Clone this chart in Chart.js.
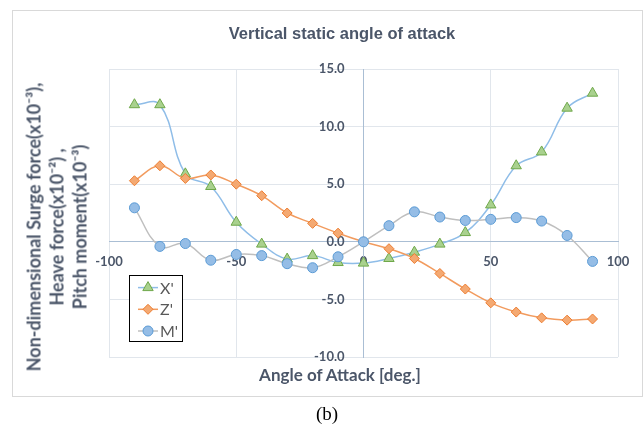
<!DOCTYPE html>
<html>
<head>
<meta charset="utf-8">
<script src="https://cdn.jsdelivr.net/npm/chart.js@4.4.0/dist/chart.umd.min.js"></script>
<style>
  html, body { margin: 0; padding: 0; background: #fff; }
  body { width: 644px; height: 430px; position: relative; overflow: hidden; font-family: Lato, sans-serif; }
  #frame { position: absolute; left: 12px; top: 10px; width: 629px; height: 385px; border: 1px solid #d9d9d9; }
  #chart { display: block; }
  .txt { position: absolute; color: #4b5669; font-weight: 700; white-space: nowrap; }
  #title { left: 342px; top: 33px; transform: translate(-50%, -50%); font-family: "Liberation Sans", Arial, sans-serif; font-size: 16.5px; }
  #xTitle { left: 340px; top: 374px; transform: translate(-50%, -50%); font-size: 17px; }
  #yTitle { left: 57px; top: 227px; transform: translate(-50%, -50%) rotate(-90deg); text-align: center; line-height: 23px; font-size: 18px; }
  #caption { left: 327px; top: 414px; transform: translate(-50%, -50%); font-family: "Liberation Serif", serif; font-size: 19px; color: #000; font-weight: 400; }
</style>
</head>
<body>
<div id="frame"><canvas id="chart" width="629" height="385"></canvas></div>
<div class="txt" id="title">Vertical static angle of attack</div>
<div class="txt" id="xTitle">Angle of Attack [deg.]</div>
<div class="txt" id="yTitle">Non-dimensional Surge force(x10⁻³),<br>Heave force(x10⁻²) ,<br>Pitch moment(x10⁻³)</div>
<div class="txt" id="caption">(b)</div>
<script>
// angle of attack [deg.]
const angles = [-90, -80, -70, -60, -50, -40, -30, -20, -10, 0, 10, 20, 30, 40, 50, 60, 70, 80, 90];

// X' surge force (x10^-3)
const surge = [11.9, 11.9, 5.9, 4.8, 1.7, -0.2, -1.5, -1.2, -1.8, -1.85, -1.45, -0.9, -0.2, 0.8, 3.2, 6.6, 7.8, 11.6, 12.9];
// Z' heave force (x10^-2)
const heave = [5.3, 6.6, 5.5, 5.8, 5.0, 4.0, 2.5, 1.6, 0.75, 0, -0.6, -1.45, -2.75, -4.1, -5.3, -6.1, -6.6, -6.8, -6.7];
// M' pitch moment (x10^-3)
const pitch = [2.95, -0.4, -0.15, -1.6, -1.1, -1.2, -1.9, -2.25, -1.3, 0, 1.4, 2.6, 2.15, 1.85, 1.95, 2.1, 1.8, 0.55, -1.7];

const seriesNames = ["X'", "Z'", "M'"];

const tickColor = '#4b5669';
const gridColor = '#e1e6ec';
const axisColor = '#aabed4';

function toPoints(vals) {
  return angles.map((a, i) => ({ x: a, y: vals[i] }));
}

// legend in a framed box inside the plot, like the Excel original
const boxLegend = {
  id: 'boxLegend',
  afterDraw(chart) {
    const { ctx, chartArea } = chart;
    const left = chartArea.left + 20;
    const top = chartArea.top + 206;
    const w = 53, h = 66;
    ctx.save();
    ctx.fillStyle = '#fff';
    ctx.fillRect(left, top, w, h);
    ctx.strokeStyle = '#000';
    ctx.lineWidth = 1;
    ctx.strokeRect(Math.round(left) + 0.5, Math.round(top) + 0.5, w, h);
    chart.data.datasets.forEach((ds, i) => {
      const y = top + 12.6 + i * 21.7;
      ctx.strokeStyle = ds.borderColor;
      ctx.lineWidth = 1.5;
      ctx.beginPath();
      ctx.moveTo(left + 9, y);
      ctx.lineTo(left + 29, y);
      ctx.stroke();
      ctx.fillStyle = ds.pointBackgroundColor;
      ctx.strokeStyle = ds.pointBorderColor;
      ctx.lineWidth = 1;
      Chart.helpers.drawPoint(ctx, {
        pointStyle: ds.pointStyle, radius: ds.pointRadius, borderWidth: 1, rotation: 0
      }, left + 19, y);
      ctx.fillStyle = '#595959';
      ctx.font = '16px Lato';
      ctx.textBaseline = 'middle';
      ctx.textAlign = 'left';
      ctx.fillText(ds.label, left + 31, y + 1);
    });
    ctx.restore();
  }
};

const tickFont = { family: 'Lato', size: 13, weight: 'bold' };

new Chart(document.getElementById('chart'), {
  type: 'line',
  data: {
    datasets: [{
      label: seriesNames[0],
      data: toPoints(surge),
      borderColor: '#8fbde8',
      borderWidth: 1.5,
      tension: 0.4,
      pointStyle: 'triangle',
      pointRadius: 6,
      pointBackgroundColor: '#a9d18e',
      pointBorderColor: '#6fa84a',
      pointBorderWidth: 1,
      order: 3
    }, {
      label: seriesNames[1],
      data: toPoints(heave),
      borderColor: '#f29b5e',
      borderWidth: 1.5,
      tension: 0.4,
      pointStyle: 'rectRot',
      pointRadius: 5,
      pointBackgroundColor: '#f4a972',
      pointBorderColor: '#ed7d31',
      pointBorderWidth: 1,
      order: 2
    }, {
      label: seriesNames[2],
      data: toPoints(pitch),
      borderColor: '#bfbfbf',
      borderWidth: 1.5,
      tension: 0.4,
      pointStyle: 'circle',
      pointRadius: 5,
      pointBackgroundColor: '#95bde6',
      pointBorderColor: '#5b9bd5',
      pointBorderWidth: 1,
      order: 1
    }]
  },
  options: {
    responsive: false,
    animation: false,
    layout: { padding: { left: 96, right: 24, top: 58, bottom: 39 } },
    scales: {
      x: {
        type: 'linear',
        min: -100,
        max: 100,
        position: { y: 0 },
        ticks: { stepSize: 50, padding: 12, color: tickColor, font: tickFont, maxRotation: 0, autoSkip: false },
        grid: { color: c => (c.tick && c.tick.value === 0) ? axisColor : gridColor, drawTicks: false },
        border: { display: true, color: axisColor }
      },
      y: {
        type: 'linear',
        min: -10,
        max: 15,
        position: { x: 0 },
        // a y axis placed at x = 0 ignores ticks.padding, so the gap is kept with trailing spaces
        ticks: { stepSize: 5, color: tickColor, font: tickFont, callback: v => v.toFixed(1) + '      ' },
        grid: { color: c => (c.tick && c.tick.value === 0) ? axisColor : gridColor, drawTicks: false },
        border: { display: true, color: axisColor }
      }
    },
    plugins: {
      legend: { display: false },
      tooltip: { enabled: false }
    }
  },
  plugins: [boxLegend]
});
</script>
</body>
</html>
